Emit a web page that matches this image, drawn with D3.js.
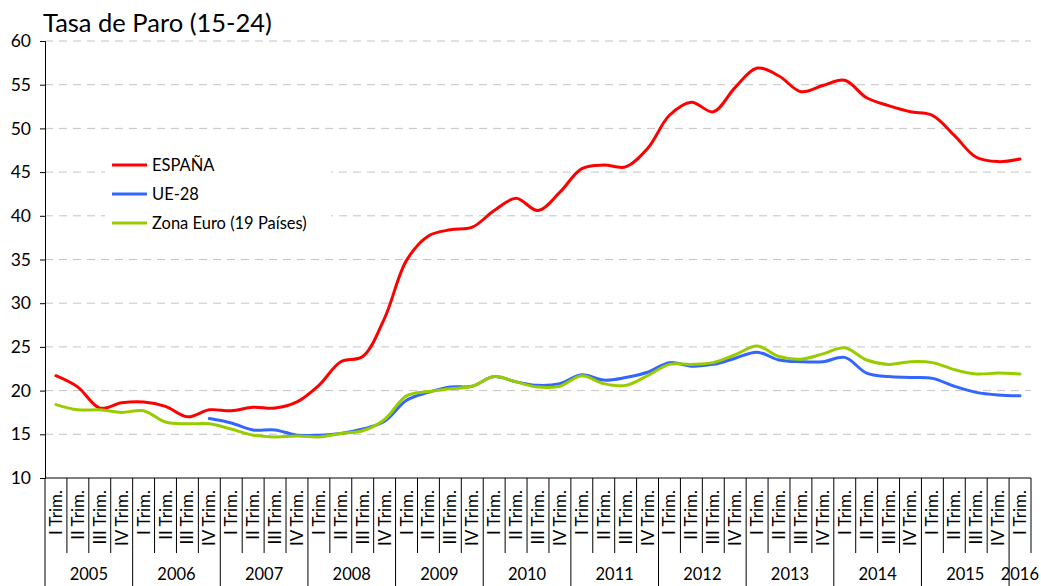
<!DOCTYPE html>
<html>
<head>
<meta charset="utf-8">
<script src="https://cdn.jsdelivr.net/npm/d3@7"></script>
<style>
  body { margin: 0; background: #fff; }
  svg { font-family: Lato, "Noto Sans", sans-serif; }
</style>
</head>
<body>
<svg width="1041" height="586"></svg>
<script>
const years = ["2005", "2006", "2007", "2008", "2009", "2010", "2011", "2012", "2013", "2014", "2015", "2016"];
const quarterNames = ["I Trim.", "II Trim.", "III Trim.", "IV Trim."];
const yTicks = [10, 15, 20, 25, 30, 35, 40, 45, 50, 55, 60];

const espana = [21.7, 20.4, 18.0, 18.6, 18.7, 18.2, 17.0, 17.8, 17.7, 18.1, 18.0, 18.7,
  20.6, 23.3, 23.9, 28.3, 34.9, 37.7, 38.4, 38.7, 40.6, 42.0, 40.6, 42.7,
  45.4, 45.8, 45.6, 47.7, 51.5, 53.0, 51.9, 54.7, 56.9, 56.0, 54.2, 54.9,
  55.5, 53.5, 52.6, 51.9, 51.5, 49.2, 46.7, 46.2, 46.5];
const ue28 = [null, null, null, null, null, null, null, 16.8, 16.3, 15.5, 15.5, 14.9,
  14.9, 15.1, 15.6, 16.5, 18.9, 19.8, 20.4, 20.5, 21.6, 21.0, 20.6, 20.8,
  21.8, 21.2, 21.5, 22.1, 23.2, 22.8, 23.0, 23.7, 24.4, 23.5, 23.3, 23.3,
  23.8, 22.0, 21.6, 21.5, 21.4, 20.5, 19.8, 19.5, 19.4];
const zonaEuro = [18.4, 17.8, 17.8, 17.5, 17.7, 16.4, 16.2, 16.2, 15.6, 14.9, 14.7, 14.8,
  14.7, 15.1, 15.4, 16.7, 19.4, 19.9, 20.2, 20.5, 21.6, 21.0, 20.4, 20.5,
  21.7, 20.8, 20.6, 21.7, 23.0, 23.0, 23.2, 24.1, 25.1, 23.9, 23.6, 24.2,
  24.9, 23.5, 23.0, 23.3, 23.2, 22.4, 21.9, 22.0, 21.9];

// 45 quarters: 2005 I .. 2016 I
const quarters = [];
years.forEach(y => quarterNames.forEach((q, k) => {
  if (quarters.length < espana.length) quarters.push({ key: y + "-" + k, year: y, label: q });
}));

const series = [
  { name: "ESPAÑA", values: espana, color: "#ff0000" },
  { name: "UE-28", values: ue28, color: "#3366ff" },
  { name: "Zona Euro (19 Países)", values: zonaEuro, color: "#99cc00" }
];

const svg = d3.select("svg");
const plotLeft = 45, plotRight = 1031, plotTop = 41, plotBottom = 478;

const x = d3.scaleBand().domain(quarters.map(d => d.key)).range([plotLeft, plotRight]);
const y = d3.scaleLinear().domain([10, 60]).range([plotBottom, plotTop]);

// title
svg.append("text")
  .attr("x", 43).attr("y", 32)
  .attr("font-size", 25.5).attr("fill", "#000")
  .text("Tasa de Paro (15-24)");

// gridlines
svg.append("g")
  .selectAll("line")
  .data(yTicks.filter(t => t > 10))
  .join("line")
  .attr("x1", plotLeft).attr("x2", plotRight)
  .attr("y1", d => y(d)).attr("y2", d => y(d))
  .attr("stroke", "#c4c4c4").attr("stroke-width", 1)
  .attr("stroke-dasharray", "8,6");

// y axis
const yAxis = svg.append("g")
  .attr("transform", `translate(${plotLeft},0)`)
  .call(d3.axisLeft(y).tickValues(yTicks).tickSize(5).tickPadding(9));
yAxis.select(".domain").attr("stroke", "#000");
yAxis.selectAll("text").attr("font-size", 17.5).attr("font-family", "Lato, sans-serif").attr("fill", "#000");

// x axis baseline
svg.append("line")
  .attr("x1", plotLeft).attr("x2", plotRight)
  .attr("y1", plotBottom).attr("y2", plotBottom)
  .attr("stroke", "#000");

// quarter separators
const sepX = quarters.map(d => x(d.key)).concat([plotRight]);
svg.append("g")
  .selectAll("line")
  .data(sepX)
  .join("line")
  .attr("x1", d => d).attr("x2", d => d)
  .attr("y1", plotBottom)
  .attr("y2", (d, i) => (i % 4 === 0 ? 586 : 553))
  .attr("stroke", "#000").attr("stroke-width", 1);

// quarter labels
svg.append("g")
  .selectAll("text")
  .data(quarters)
  .join("text")
  .attr("transform", d => `translate(${x(d.key) + x.bandwidth() / 2 + 6},490) rotate(-90)`)
  .attr("text-anchor", "end")
  .attr("font-size", 17)
  .attr("fill", "#000")
  .text(d => d.label);

// year labels
const yearGroups = d3.groups(quarters, d => d.year);
svg.append("g")
  .selectAll("text")
  .data(yearGroups)
  .join("text")
  .attr("x", d => d[1].length === 1
    ? plotRight + 8
    : (x(d[1][0].key) + x(d[1][d[1].length - 1].key) + x.bandwidth()) / 2)
  .attr("y", 580)
  .attr("text-anchor", d => (d[1].length === 1 ? "end" : "middle"))
  .attr("font-size", 16.5)
  .attr("fill", "#000")
  .text(d => d[0]);

// lines
const line = d3.line()
  .defined(v => v != null)
  .x((v, i) => x(quarters[i].key) + x.bandwidth() / 2)
  .y(v => y(v))
  .curve(d3.curveCatmullRom.alpha(0.5));

svg.append("g")
  .selectAll("path")
  .data(series)
  .join("path")
  .attr("d", d => line(d.values))
  .attr("fill", "none")
  .attr("stroke", d => d.color)
  .attr("stroke-width", 3)
  .attr("stroke-linecap", "round");

// legend
const legend = svg.append("g");
legend.append("rect")
  .attr("x", 105).attr("y", 150).attr("width", 226).attr("height", 88)
  .attr("fill", "#fff");
const items = legend.selectAll("g")
  .data(series)
  .join("g")
  .attr("transform", (d, i) => `translate(112,${165 + i * 29})`);
items.append("line")
  .attr("x1", 0).attr("x2", 35)
  .attr("stroke", d => d.color).attr("stroke-width", 3);
items.append("text")
  .attr("x", 40).attr("y", 6)
  .attr("font-size", 16.5).attr("fill", "#000")
  .text(d => d.name);
</script>
</body>
</html>
